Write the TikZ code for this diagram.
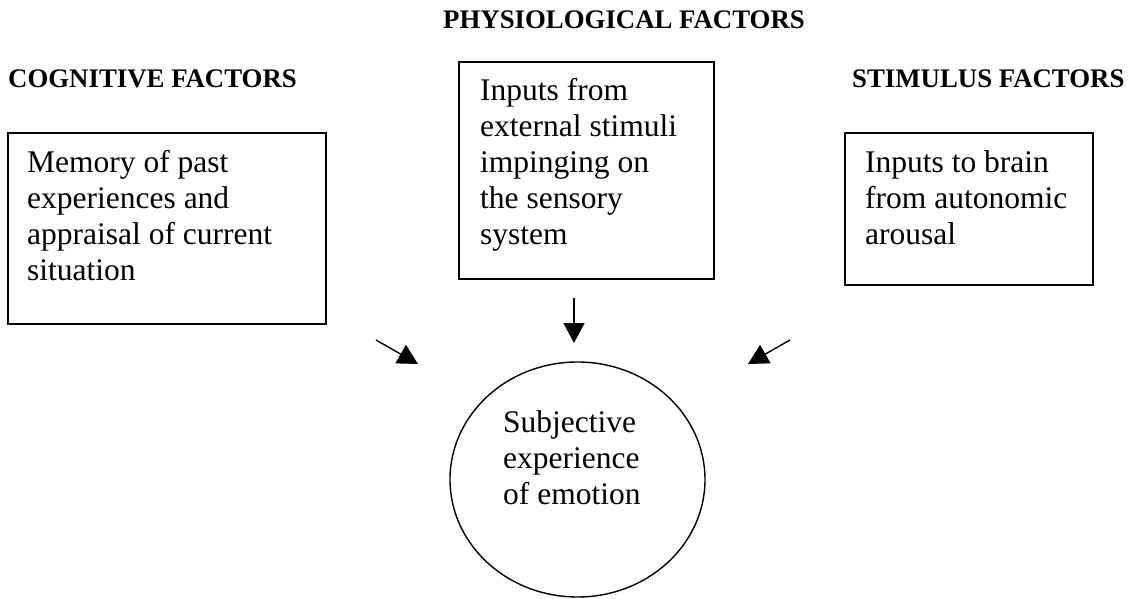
\documentclass[tikz,border=0pt]{standalone}
\usepackage{fontspec}
\setmainfont{Liberation Serif}
\usetikzlibrary{arrows.meta,shapes.geometric,positioning}

\tikzset{
  factorbox/.style={draw, line width=1.8pt, inner sep=0pt, anchor=north west},
  boxtext/.style={align=left, inner sep=0pt, anchor=base west, font=\fontsize{31.5}{36}\selectfont},
  heading/.style={inner sep=0pt, anchor=base west, font=\fontsize{26.8}{30}\selectfont\bfseries},
  flowarrow/.style={line width=1.4pt, -{Triangle[length=20pt,width=21pt]}}
}

\begin{document}
\begin{tikzpicture}[x=1pt, y=-1pt]
            \useasboundingbox (0,0) rectangle (1128,599);

            \node[heading] (physhead) at (443,29) {PHYSIOLOGICAL FACTORS};
            \node[heading] (coghead) at (8,88) {COGNITIVE FACTORS};
            \node[heading] (stimhead) at (852,88) {STIMULUS FACTORS};

            \node[factorbox, minimum width=318pt, minimum height=191pt] (cog) at (7,132) {};
            \node[factorbox, minimum width=255pt, minimum height=217pt] (phys) at (458,61) {};
            \node[factorbox, minimum width=248pt, minimum height=152pt] (stim) at (844,132) {};

            \node[boxtext] (cogtext) at ([shift={(20,148)}]cog.north west)
                {Memory of past\\experiences and\\appraisal of current\\situation};
            \node[boxtext] (phystext) at ([shift={(22,183)}]phys.north west)
                {Inputs from\\external stimuli\\impinging on\\the sensory\\system};
            \node[boxtext] (stimtext) at ([shift={(21,112)}]stim.north west)
                {Inputs to brain\\from autonomic\\arousal};

            \node[draw, ellipse, line width=1.4pt, inner sep=0pt,
                  minimum width=255pt, minimum height=235pt] (emo) at (577.5,479.5) {};
            \node[boxtext] (emotext) at (503,504) {Subjective\\experience\\of emotion};

            \coordinate (cogtail) at (376,340);
            \coordinate (coghead tip) at (418,364);
            \coordinate (phystail) at (574,298);
            \coordinate (physhead tip) at (574,343);
            \coordinate (stimtail) at (790,340);
            \coordinate (stimhead tip) at (748,364);

            \draw[flowarrow] (cogtail) -- (coghead tip);
            \draw[flowarrow] (phystail) -- (physhead tip);
            \draw[flowarrow] (stimtail) -- (stimhead tip);
        \end{tikzpicture}
\end{document}
